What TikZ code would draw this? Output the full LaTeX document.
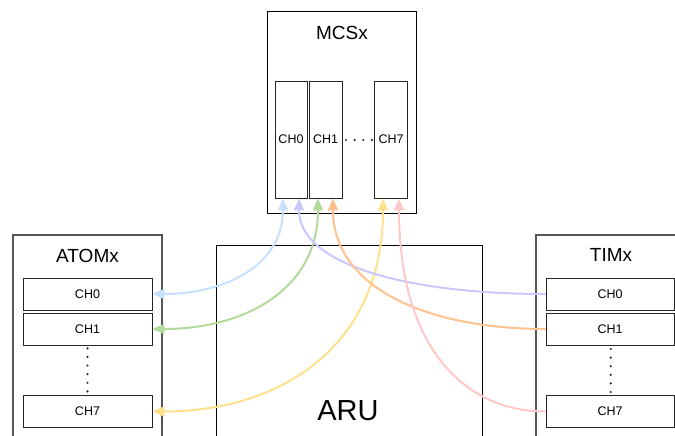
\documentclass[tikz,border=0pt]{standalone}
\usepackage{fontspec}
\setmainfont{Liberation Sans}
\usetikzlibrary{arrows.meta,calc}
\definecolor{cblue}{HTML}{C6E0FF}
\definecolor{cpurple}{HTML}{C8C8FF}
\definecolor{cgreen}{HTML}{B3D99B}
\definecolor{corange}{HTML}{FFC28C}
\definecolor{cyellow}{HTML}{FFE08C}
\definecolor{cred}{HTML}{FFC8C8}
\definecolor{cgray}{HTML}{555555}
\tikzset{
  outerbox/.style={draw=cgray,line width=1.1pt,minimum width=149pt,inner sep=0pt},
  mainbox/.style={draw=black,line width=0.9pt,inner sep=0pt},
  chbox/.style={draw=black!85,line width=0.9pt,inner sep=0pt,font=\fontsize{12.5}{14}\selectfont},
  hchan/.style={chbox,minimum width=129pt,minimum height=32pt},
  vchan/.style={chbox,minimum width=33pt,minimum height=117pt},
  title/.style={font=\fontsize{19}{21}\selectfont,inner sep=0pt},
  dots/.style={line width=2.4pt,line cap=round,dash pattern=on 0pt off 8.6pt,black!85},
  link/.style={line width=2pt,-{Triangle[length=12pt,width=10pt]}},
  dlink/.style={line width=2pt,{Triangle[length=12pt,width=10pt]}-{Triangle[length=12pt,width=10pt]}}
}
\begin{document}
\begin{tikzpicture}[x=1pt,y=-1pt]
\useasboundingbox (0,0) rectangle (675,436);
\clip (0,0) rectangle (675,436);
% outer boxes
\node[mainbox,minimum width=149pt,minimum height=202pt] (mcs) at (341.5,112) {};
\node[title] (mcsl) at (342,33) {MCSx};
\node[outerbox,minimum height=215pt] (atom) at (87.5,342.5) {};
\node[title] (atoml) at (87.5,256) {ATOMx};
\node[mainbox,minimum width=266pt,minimum height=205pt] (aru) at (349,347.5) {};
\node[font=\fontsize{29}{32}\selectfont,inner sep=0pt] (arul) at (348,411) {ARU};
\node[outerbox,minimum height=215pt] (tim) at (610.5,342.5) {};
\node[title] (timl) at (611,255) {TIMx};
% MCS channels
\node[vchan,minimum width=32pt] (m0) at (291,139.5) {CH0};
\node[vchan] (m1) at (325.5,139.5) {CH1};
\node[vchan] (m7) at (391,139.5) {CH7};
\draw[dots] (346,140) -- (372,140);
% ATOM channels
\node[hchan] (a0) at (87.5,294) {CH0};
\node[hchan] (a1) at (87.5,329) {CH1};
\node[hchan] (a7) at (87.5,411.5) {CH7};
\draw[dots] (87.5,348.3) -- (87.5,393);
% TIM channels
\node[hchan,minimum width=128pt] (t0) at (610,294) {CH0};
\node[hchan,minimum width=128pt] (t1) at (610,329) {CH1};
\node[hchan,minimum width=128pt] (t7) at (610,411.5) {CH7};
\draw[dots] (610.7,349) -- (610.7,393);
% entry points on MCS channels
\coordinate (m0a) at ($(m0.south)+(-8,0)$);
\coordinate (m0b) at ($(m0.south)+(8,0)$);
\coordinate (m1a) at ($(m1.south)+(-7.5,0)$);
\coordinate (m1b) at ($(m1.south)+(7.5,0)$);
\coordinate (m7a) at ($(m7.south)+(-8,0)$);
\coordinate (m7b) at ($(m7.south)+(8,0)$);
% connectors
\draw[dlink,cblue] (a0.east) .. controls +(72,0) and +(0,67) .. (m0a);
\draw[dlink,cgreen] (a1.east) .. controls +(91,0) and +(0,92) .. (m1a);
\draw[dlink,cyellow] (a7.east) .. controls +(127,0) and +(0,149) .. (m7a);
\draw[link,cpurple] (t0.west) .. controls +(-136,0) and +(0,67) .. (m0b);
\draw[link,corange] (t1.west) .. controls +(-117,0) and +(0,90) .. (m1b);
\draw[link,cred] (t7.west) .. controls +(-81,0) and +(0,149) .. (m7b);
\end{tikzpicture}
\end{document}
